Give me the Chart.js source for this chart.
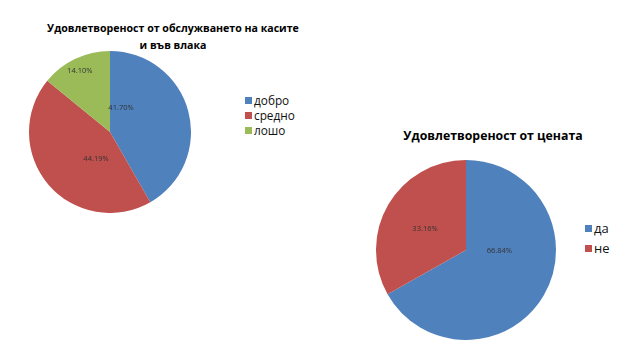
<!DOCTYPE html>
<html>
<head>
<meta charset="utf-8">
<script src="https://cdn.jsdelivr.net/npm/chart.js@4.4.1/dist/chart.umd.min.js"></script>
<style>
  body { margin: 0; background: #fff; width: 641px; height: 352px; overflow: hidden; position: relative; font-family: "Open Sans", sans-serif; }
  canvas { position: absolute; }
  .ttl { position: absolute; font-weight: bold; line-height: 17px; text-align: center; color: #000; white-space: nowrap; }
  .lgd { position: absolute; color: #111; white-space: nowrap; }
  .lgd div { display: flex; align-items: center; }
  .lgd span { display: inline-block; }
</style>
</head>
<body>
<div class="ttl" id="serviceTitle" style="left:0; top:20px; width:346px; font-size:10.6px;"></div>
<canvas id="service" width="162" height="162" style="left:29px; top:51px;"></canvas>
<div class="lgd" id="serviceLegend" style="left:245px; top:93px; font-size:11.8px; line-height:15px;"></div>

<div class="ttl" id="priceTitle" style="left:393px; top:127px; width:200px; font-size:12.3px;"></div>
<canvas id="price" width="180" height="180" style="left:376px; top:160px;"></canvas>
<div class="lgd" id="priceLegend" style="left:585px; top:218px; font-size:13px; line-height:20px;"></div>

<script>
const serviceTitle = ['Удовлетвореност от обслужването на касите', 'и във влака'];
const serviceLabels = ['добро', 'средно', 'лошо'];
const serviceValues = [41.70, 44.19, 14.10];

const priceTitle = ['Удовлетвореност от цената'];
const priceLabels = ['да', 'не'];
const priceValues = [66.84, 33.16];

const sliceColors = ['#4F81BD', '#C0504D', '#9BBB59'];

// where each % label sits: [share of the slice angle, share of the radius]
const servicePlace = [[0.164, 0.326], [0.36, 0.375], [0.48, 0.84]];
const pricePlace = [[0.378, 0.37], [0.47, 0.51]];

const pctLabels = {
    id: 'pctLabels',
    afterDatasetsDraw(chart, args, opts) {
        const ctx = chart.ctx;
        const data = chart.data.datasets[0].data;
        ctx.save();
        ctx.font = '7.5px "Open Sans", sans-serif';
        ctx.fillStyle = '#333';
        ctx.textAlign = 'center';
        ctx.textBaseline = 'middle';
        chart.getDatasetMeta(0).data.forEach(function(arc, i) {
            const p = opts.place[i];
            const a = arc.startAngle + (arc.endAngle - arc.startAngle) * p[0];
            const r = arc.outerRadius * p[1];
            ctx.fillText(data[i].toFixed(2) + '%', arc.x + Math.cos(a) * r, arc.y + Math.sin(a) * r);
        });
        ctx.restore();
    }
};

function makePie(id, labels, values, place) {
    return new Chart(document.getElementById(id), {
        type: 'pie',
        data: {
            labels: labels,
            datasets: [{
                data: values,
                backgroundColor: sliceColors.slice(0, values.length),
                borderWidth: 0,
                hoverOffset: 0
            }]
        },
        options: {
            responsive: false,
            animation: false,
            events: [],
            plugins: {
                legend: { display: false },
                tooltip: { enabled: false },
                pctLabels: { place: place }
            }
        },
        plugins: [pctLabels]
    });
}

function fillTitle(id, lines) {
    const el = document.getElementById(id);
    lines.forEach(function(line, i) {
        if (i > 0) el.appendChild(document.createElement('br'));
        el.appendChild(document.createTextNode(line));
    });
}

function fillLegend(id, labels, box) {
    const el = document.getElementById(id);
    labels.forEach(function(label, i) {
        const row = document.createElement('div');
        const sw = document.createElement('span');
        sw.style.width = box + 'px';
        sw.style.height = box + 'px';
        sw.style.marginRight = '2px';
        sw.style.background = sliceColors[i];
        const txt = document.createElement('span');
        txt.textContent = label;
        row.appendChild(sw);
        row.appendChild(txt);
        el.appendChild(row);
    });
}

fillTitle('serviceTitle', serviceTitle);
fillTitle('priceTitle', priceTitle);
fillLegend('serviceLegend', serviceLabels, 7);
fillLegend('priceLegend', priceLabels, 7);

makePie('service', serviceLabels, serviceValues, servicePlace);
makePie('price', priceLabels, priceValues, pricePlace);
</script>
</body>
</html>
